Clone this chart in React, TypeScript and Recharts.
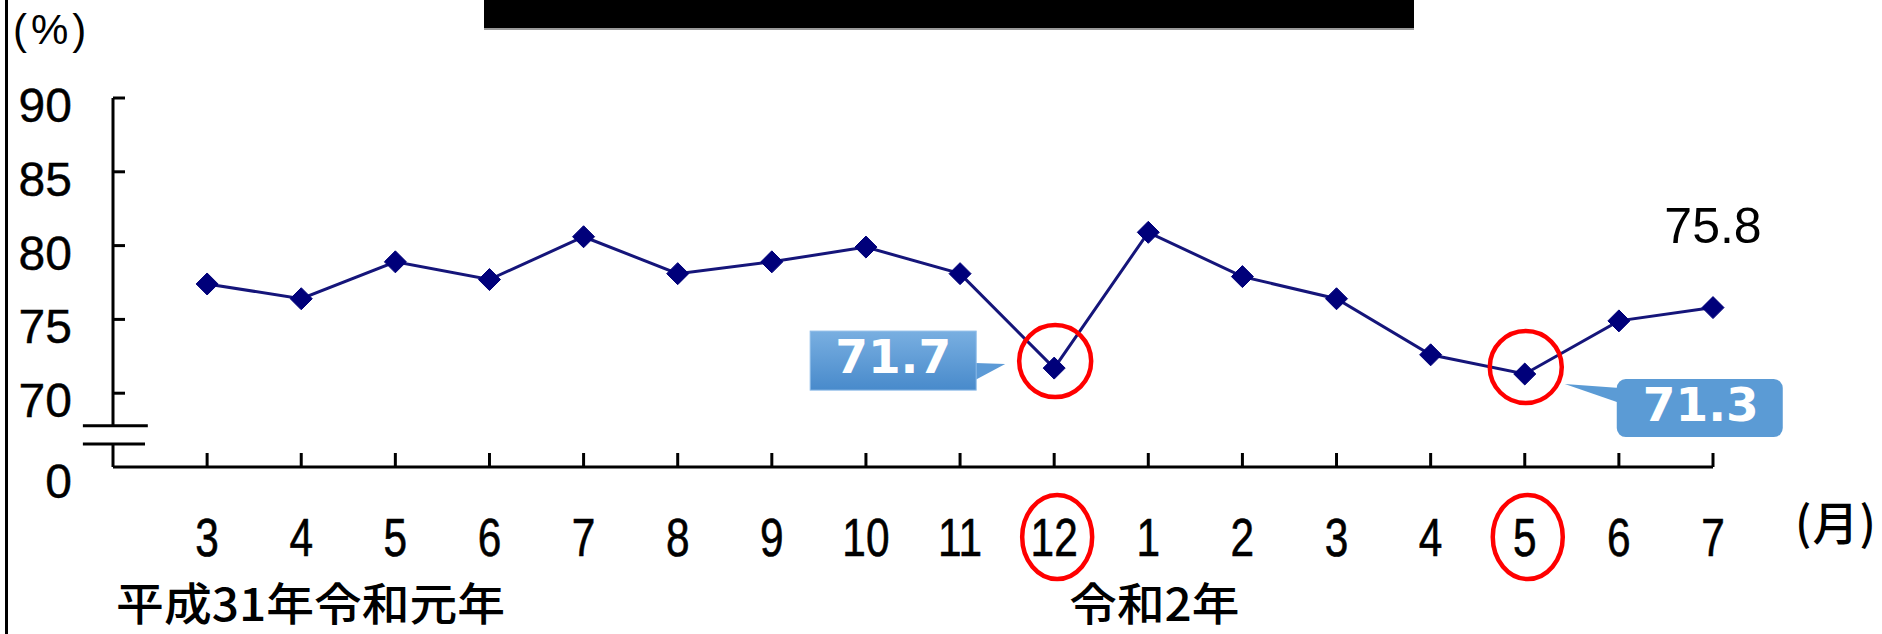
import React from 'react';
import { LineChart, Line, XAxis, YAxis, ReferenceLine } from 'recharts';

// Monthly operating rate (%), March 2019 – July 2020
const months = ['3', '4', '5', '6', '7', '8', '9', '10', '11', '12', '1', '2', '3', '4', '5', '6', '7'];
const rates = [77.4, 76.4, 78.9, 77.7, 80.6, 78.1, 78.9, 79.9, 78.1, 71.7, 80.9, 77.9, 76.4, 72.6, 71.3, 74.9, 75.8];

// y axis: broken scale, the bottom tick stands for 0
const yTicks = [65, 70, 75, 80, 85, 90];
const yTickLabels = ['0', '70', '75', '80', '85', '90'];
const breakHigh = 67.8;
const breakLow = 66.55;

// year captions under the month axis
const yearCaptions = ['平成31年令和元年', '令和2年'];

// months that are circled and get a value callout
const circled = [9, 14];
const calloutLeft = 9;
const calloutRight = 14;
const endLabel = 16;

const data = rates.map((rate, i) => ({ pos: i + 1, month: months[i], rate }));
const xTicks = data.map((d) => d.pos);

const SANS = "'Liberation Sans', Arial, sans-serif";
const JP = "'Noto Sans CJK JP', 'Noto Sans', sans-serif";
const BOLD = "'DejaVu Sans', Verdana, sans-serif";
const NAVY = '#00007a';
const RED = '#ff0000';

const MonthTick = (props: any) => {
  const { x, y, payload } = props;
  const i = payload.value - 1;
  return (
    <g>
      <line x1={x} x2={x} y1={y - 14} y2={y} stroke="#000" strokeWidth={3} />
      <text
        transform={`translate(${x},${y + 89}) scale(0.8,1)`}
        x={0}
        y={0}
        textAnchor="middle"
        fontFamily={SANS}
        fontSize={53}
        fill="#000"
        stroke="#000"
        strokeWidth={0.6}
      >
        {months[i]}
      </text>
      {circled.includes(i) && (
        <ellipse cx={x + 3} cy={y + 70} rx={35} ry={42} fill="none" stroke={RED} strokeWidth={4.5} />
      )}
      {i === 0 && (
        <text x={x - 91} y={y + 154} fontFamily={JP} fontSize={45} fontWeight={500} fill="#000"
          textLength={389} lengthAdjust="spacingAndGlyphs">
          {yearCaptions[0]}
        </text>
      )}
      {i === 10 && (
        <text x={x + 6} y={y + 154} textAnchor="middle" fontFamily={JP} fontSize={45} fontWeight={500} fill="#000"
          textLength={170} lengthAdjust="spacingAndGlyphs">
          {yearCaptions[1]}
        </text>
      )}
    </g>
  );
};

const RateTick = (props: any) => {
  const { x, y, payload } = props;
  const v = payload.value;
  const idx = yTicks.indexOf(v);
  const isZero = v === yTicks[0];
  return (
    <g>
      {!isZero && <line x1={x} x2={x + 12} y1={y} y2={y} stroke="#000" strokeWidth={3} />}
      <text x={x - 41} y={y + (isZero ? 31 : 24)} textAnchor="end" fontFamily={SANS} fontSize={48}
        fill="#000" stroke="#000" strokeWidth={0.4}>
        {yTickLabels[idx]}
      </text>
    </g>
  );
};

const renderPoint = (props: any) => {
  const { cx, cy, index, payload } = props;
  const d = 11;
  return (
    <g key={`pt-${index}`}>
      <polygon
        points={`${cx},${cy - d} ${cx + d},${cy} ${cx},${cy + d} ${cx - d},${cy}`}
        fill={NAVY}
        stroke={NAVY}
        strokeWidth={1}
      />
      {circled.includes(index) && (
        <circle cx={cx + 1} cy={cy - 7} r={36} fill="none" stroke={RED} strokeWidth={4.5} />
      )}
      {index === calloutLeft && (
        <g>
          <defs>
            <linearGradient id="calloutFill" x1="0" y1="0" x2="0" y2="1">
              <stop offset="0%" stopColor="#79afe1" />
              <stop offset="100%" stopColor="#488acb" />
            </linearGradient>
          </defs>
          <polygon
            points={`${cx - 79},${cy - 5} ${cx - 49},${cy - 4} ${cx - 79},${cy + 12}`}
            fill="#5c9ad6"
          />
          <rect x={cx - 244} y={cy - 37} width={166} height={59} fill="url(#calloutFill)" stroke="#8cbbe8" strokeWidth={1} />
          <text x={cx - 161} y={cy + 5} textAnchor="middle" fontFamily={BOLD} fontWeight="bold" fontSize={47} fill="#fff">
            {payload.rate.toFixed(1)}
          </text>
        </g>
      )}
      {index === calloutRight && (
        <g>
          <polygon
            points={`${cx + 95},${cy + 14} ${cx + 40},${cy + 10} ${cx + 95},${cy + 29}`}
            fill="#5b9bd5"
          />
          <rect x={cx + 92} y={cy + 5} width={166} height={58} rx={9} fill="#5b9bd5" />
          <text x={cx + 176} y={cy + 47} textAnchor="middle" fontFamily={BOLD} fontWeight="bold" fontSize={47} fill="#fff">
            {payload.rate.toFixed(1)}
          </text>
        </g>
      )}
      {index === endLabel && (
        <text x={cx} y={cy - 65} textAnchor="middle" fontFamily={SANS} fontSize={50} fill="#000">
          {payload.rate.toFixed(1)}
        </text>
      )}
    </g>
  );
};

export default function App() {
  return (
    <div style={{ position: 'absolute', left: 0, top: 0, width: 1882, height: 634, background: '#fff', overflow: 'hidden' }}>
      <div style={{ position: 'absolute', left: 5, top: 0, width: 3, height: 634, background: '#000' }} />
      <div style={{ position: 'absolute', left: 484, top: 0, width: 930, height: 28, background: '#000', borderBottom: '2px solid #9a9a9a' }} />
      <div style={{ position: 'absolute', left: 13, top: 6, fontFamily: SANS, fontSize: 42, lineHeight: '48px', color: '#000', letterSpacing: 4 }}>
        (%)
      </div>
      <div style={{ position: 'absolute', left: 1795, top: 490, fontFamily: JP, fontSize: 46, lineHeight: '60px', color: '#000', letterSpacing: 1, fontWeight: 500 }}>
        (月)
      </div>
      <LineChart
        width={1882}
        height={634}
        data={data}
        margin={{ top: 98, right: 169, bottom: 0, left: 0 }}
        style={{ position: 'absolute', left: 0, top: 0 }}
      >
        <XAxis
          dataKey="pos"
          type="number"
          domain={[0, 17]}
          ticks={xTicks}
          interval={0}
          height={167}
          tickSize={0}
          tickMargin={0}
          tickLine={false}
          axisLine={{ stroke: '#000', strokeWidth: 3 }}
          tick={<MonthTick />}
        />
        <YAxis
          type="number"
          domain={[65, 90]}
          ticks={yTicks}
          interval={0}
          width={113}
          tickSize={0}
          tickMargin={0}
          tickLine={false}
          axisLine={false}
          tick={<RateTick />}
        />
        <ReferenceLine segment={[{ x: 0, y: 90 }, { x: 0, y: breakHigh }]} stroke="#000" strokeWidth={3} ifOverflow="visible" />
        <ReferenceLine segment={[{ x: 0, y: breakLow }, { x: 0, y: 65 }]} stroke="#000" strokeWidth={3} ifOverflow="visible" />
        <ReferenceLine segment={[{ x: -0.32, y: breakHigh }, { x: 0.37, y: breakHigh }]} stroke="#000" strokeWidth={3} ifOverflow="visible" />
        <ReferenceLine segment={[{ x: -0.32, y: breakLow }, { x: 0.34, y: breakLow }]} stroke="#000" strokeWidth={3} ifOverflow="visible" />
        <Line
          type="linear"
          dataKey="rate"
          stroke="#15157a"
          strokeWidth={3}
          dot={renderPoint}
          activeDot={false}
          isAnimationActive={false}
        />
      </LineChart>
    </div>
  );
}
